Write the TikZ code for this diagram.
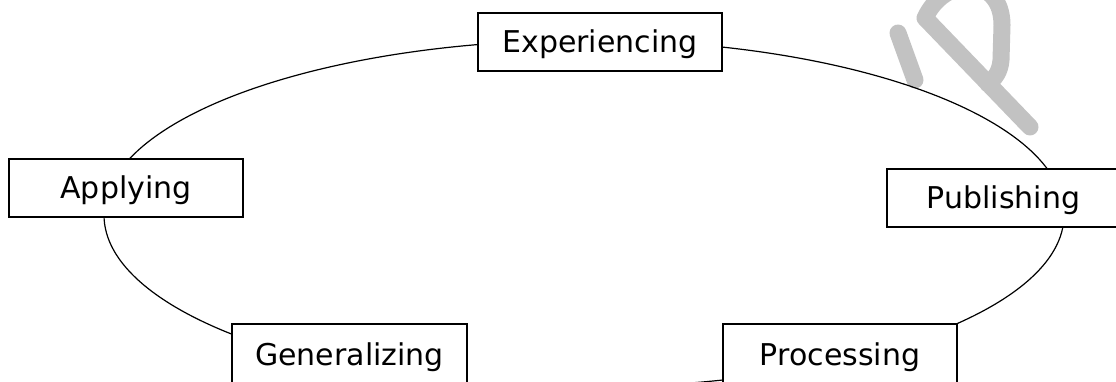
\documentclass[tikz,border=0pt]{standalone}
\usepackage{fontspec}
\setmainfont{DejaVu Sans}
\definecolor{wmgray}{HTML}{C2C2C2}
\tikzset{
  stagebox/.style={draw=black, line width=1.3pt, fill=white, minimum height=58pt,
    inner sep=0pt, text height=25.5pt, text depth=4.5pt,
    font=\fontsize{30}{36}\selectfont},
  cycleline/.style={draw=black, line width=1.2pt, line join=round},
  watermark/.style={draw=wmgray, line width=17pt, line cap=round, line join=round}
}
\begin{document}
\begin{tikzpicture}[x=1pt,y=1pt]
\useasboundingbox (0,0) rectangle (1116,381);
\clip (0,0) rectangle (1116,381);
% faint watermark
\draw[watermark] (898,348) -- (915,301);
\draw[watermark] (1030,254) -- (925,363) .. controls (945,406) and (1002,406) .. (1002,356)
  -- (1001,321) .. controls (1000,309) and (995,303) .. (988,297);
% cycle outline (its lowest part runs below the picture's edge)
\coordinate (right) at (1064,166);
\coordinate (bottom) at (588,-6);
\draw[cycleline] (right)
  arc[start angle=0, end angle=90, x radius=476, y radius=175]
  arc[start angle=90, end angle=180, x radius=484, y radius=175]
  arc[start angle=180, end angle=270, x radius=484, y radius=176];
\draw[cycleline] (bottom)
  arc[start angle=270, end angle=360, x radius=476, y radius=172];
% stages
\node[stagebox, minimum width=244pt] (exp) at (600,339) {Experiencing};
\node[stagebox, minimum width=234pt] (app) at (126,193) {Applying};
\node[stagebox, minimum width=233pt] (pub) at (1003.5,183) {Publishing};
\node[stagebox, minimum width=235pt, minimum height=62pt] (gen) at (349.5,26) {Generalizing};
\node[stagebox, minimum width=234pt, minimum height=62pt] (pro) at (840,26) {Processing};
\end{tikzpicture}
\end{document}
